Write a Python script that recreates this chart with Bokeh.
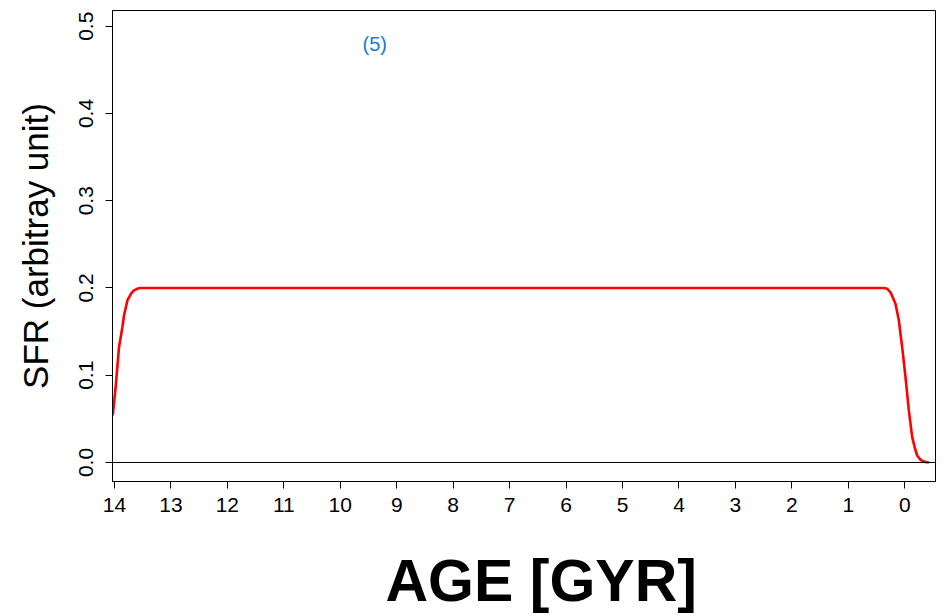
from bokeh.plotting import figure
from bokeh.models import Range1d, Span, Label, FixedTicker, PrintfTickFormatter
from bokeh.embed import file_html
from bokeh.resources import INLINE

# Star formation history: constant SFR with smooth onset and quenching
age_gyr = [14.03, 13.98, 13.92, 13.86, 13.83, 13.77, 13.70, 13.66, 13.60, 13.54,
           13.0, 12.0, 11.0, 10.0, 9.0, 8.0, 7.0, 6.0, 5.0, 4.0, 3.0, 2.0, 1.0,
           0.45, 0.37, 0.31, 0.253, 0.165, 0.106, 0.046, -0.012, -0.071,
           -0.131, -0.18, -0.22, -0.28, -0.337, -0.425]
sfr = [0.054, 0.086, 0.132, 0.155, 0.169, 0.186, 0.194, 0.197, 0.199, 0.200,
       0.200, 0.200, 0.200, 0.200, 0.200, 0.200, 0.200, 0.200, 0.200, 0.200, 0.200, 0.200, 0.200,
       0.200, 0.200, 0.199, 0.195, 0.182, 0.163, 0.132, 0.098, 0.060,
       0.029, 0.016, 0.008, 0.003, 0.001, 0.000]

x_ticks = list(range(0, 15))
y_ticks = [0.0, 0.1, 0.2, 0.3, 0.4, 0.5]
model_tag = "(5)"
x_title = "AGE [GYR]"
y_title = "SFR (arbitray unit)"

FONT = "Liberation Sans"

p = figure(width=944, height=616,
           x_range=Range1d(14.035, -0.544), y_range=Range1d(-0.0218, 0.518),
           output_backend="svg", toolbar_location=None,
           min_border_left=112, min_border_right=9,
           min_border_top=10, min_border_bottom=135,
           y_axis_label=y_title)

p.background_fill_color = "white"
p.border_fill_color = "white"
p.outline_line_color = "black"
p.outline_line_width = 1
p.xgrid.visible = False
p.ygrid.visible = False

# axes
p.xaxis.ticker = FixedTicker(ticks=x_ticks)
p.yaxis.ticker = FixedTicker(ticks=y_ticks)
p.yaxis.formatter = PrintfTickFormatter(format="%.1f")
for ax in (p.xaxis, p.yaxis):
    ax.axis_line_color = "black"
    ax.major_tick_line_color = "black"
    ax.major_tick_out = 7
    ax.major_tick_in = 0
    ax.minor_tick_line_color = None
    ax.major_label_text_font = FONT
    ax.major_label_text_font_size = "21px"
    ax.major_label_text_color = "black"
    ax.axis_label_text_font = FONT
    ax.axis_label_text_color = "black"
    ax.axis_label_text_font_style = "normal"

p.yaxis.major_label_orientation = "vertical"
p.yaxis.major_label_standoff = 12
p.yaxis.axis_label_text_font_size = "35px"
p.yaxis.axis_label_standoff = 22

p.xaxis.major_label_standoff = 9

# x-axis title in the lower border panel
p.add_layout(Label(x=273, y=0, x_units="screen", y_units="screen",
                   text=x_title, text_align="left", text_baseline="alphabetic",
                   text_font=FONT, text_font_size="59px",
                   text_font_style="bold", text_color="black"), "below")

# zero reference line
p.add_layout(Span(location=0, dimension="width", line_color="black", line_width=1))

# SFR curve
p.line(age_gyr, sfr, line_color="red", line_width=2.6)

# model tag
p.add_layout(Label(x=9.39, y=0.48, text=model_tag, text_align="center",
                   text_baseline="middle", text_font=FONT,
                   text_font_size="20px", text_color="#2079d3"))

open("out.html", "w").write(file_html(p, INLINE))
